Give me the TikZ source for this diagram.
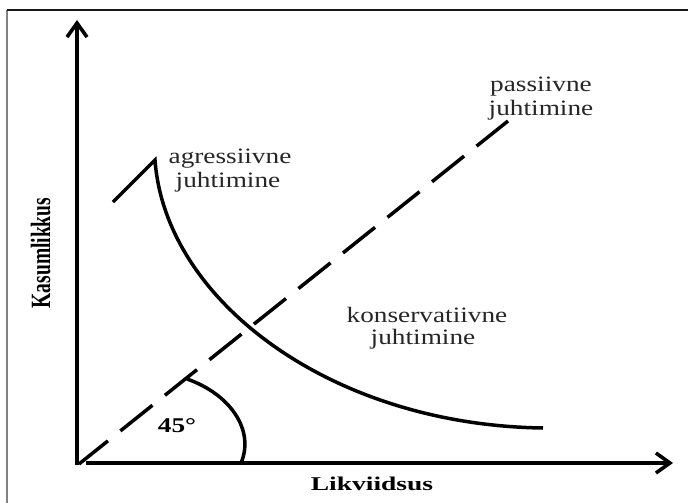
\documentclass[tikz,border=0pt]{standalone}
\usepackage{fontspec}
\usepackage{graphicx}
\setmainfont{Liberation Serif}
\usetikzlibrary{arrows.meta}
\newcommand{\sx}[1]{\scalebox{1.24}[1]{#1}}
\newcommand{\sxb}[1]{\scalebox{1.41}[1]{#1}}
\tikzset{
  axis/.style={line width=3.6pt, -{Straight Barb[length=14pt,width=20pt,line width=3.6pt]}},
  thick curve/.style={line width=3.5pt},
  lbl/.style={font=\fontsize{22}{24}\selectfont, anchor=base, inner sep=0pt, text=black!85},
  blbl/.style={font=\bfseries\fontsize{19.5}{21}\selectfont, anchor=base, inner sep=0pt},
}
\begin{document}
\begin{tikzpicture}[x=1pt,y=-1pt]
\useasboundingbox (0,0) rectangle (688,503);
% frame
\coordinate (FL) at (7,503);
\coordinate (FTL) at (7,10);
\coordinate (FTR) at (688,10);
\draw[gray, line width=1.5pt] (FL) -- (FTL);
\draw[black!90, line width=1.8pt] (FTL) -- (FTR);
% axes
\coordinate (O) at (77,465);
\coordinate (Ytip) at (77,20);
\coordinate (Xs) at (86,463);
\coordinate (Xtip) at (673,463);
\draw[axis] (O) -- (Ytip);
\draw[axis] (Xs) -- (Xtip);
% 45 degree dashed line
\coordinate (D0) at (79,464);
\coordinate (D1) at (508,121);
\draw[thick curve, dash pattern=on 41pt off 16pt, dash phase=4pt] (D0) -- (D1);
% aggressive curve
\coordinate (A0) at (113,202);
\coordinate (Apk) at (155,160);
\coordinate (A1) at (543,428);
\draw[thick curve, line join=miter] (A0) -- (Apk) .. controls (165,300) and (330,425) .. (A1);
% angle arc
\coordinate (R0) at (187,379);
\coordinate (R1) at (241,463);
\draw[thick curve] (R0) .. controls (230,394) and (255,430) .. (R1);
% labels
\node[blbl, font=\bfseries\fontsize{21}{23}\selectfont] (ang) at (177,432) {\scalebox{1.3}[1]{45°}};
\node[lbl] (agr1) at (230,163) {\sx{agressiivne}};
\node[lbl] (agr2) at (228,187) {\sx{juhtimine}};
\node[lbl] (pas1) at (541,92) {\sx{passiivne}};
\node[lbl] (pas2) at (541,115) {\sx{juhtimine}};
\node[lbl] (kon1) at (427,322) {\sx{konservatiivne}};
\node[lbl] (kon2) at (423,344) {\sx{juhtimine}};
\node[blbl] (xl) at (372,490) {\sxb{Likviidsus}};
\node[blbl, rotate=90] (yl) at (50,253) {\scalebox{1}[1.43]{Kasumlikkus}};
\end{tikzpicture}
\end{document}
